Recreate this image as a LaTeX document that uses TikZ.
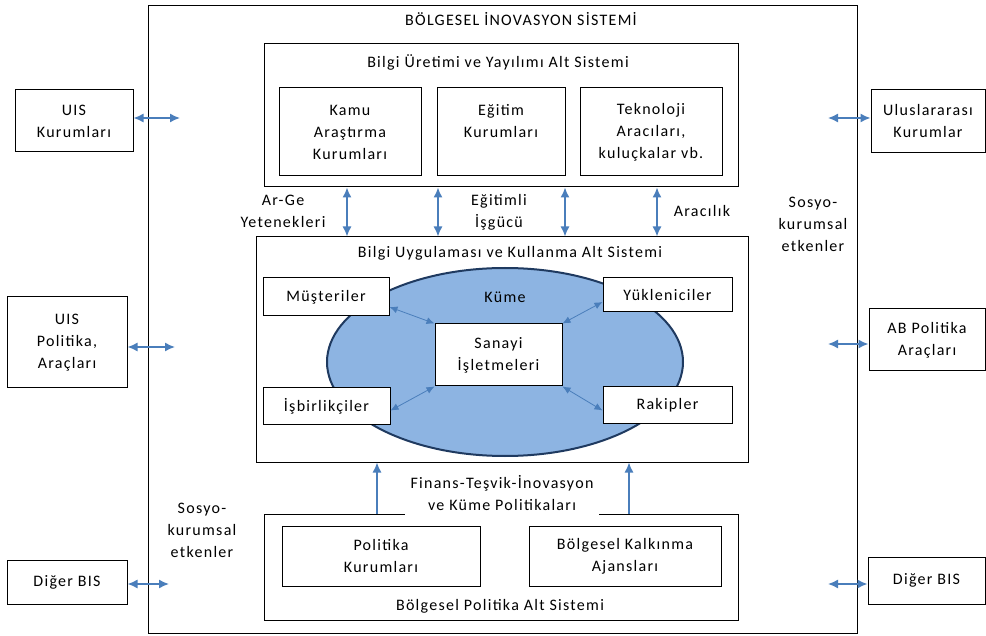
\documentclass[tikz,border=0pt]{standalone}
\usepackage{fontspec}
\setmainfont{Carlito}[LetterSpace=8]
\usetikzlibrary{arrows.meta,shapes.geometric}
\definecolor{okmavi}{HTML}{4A7EBB}
\definecolor{kumemavi}{HTML}{8DB4E2}
\definecolor{kumekenar}{HTML}{1F3A60}
\begin{document}
\begin{tikzpicture}[x=1pt,y=-1pt,
  font=\fontsize{16}{22}\selectfont,
  kutu/.style={draw,line width=1pt,fill=white,align=center,inner sep=2pt},
  yazi/.style={align=center,inner sep=1pt},
  okcift/.style={draw=okmavi,line width=1.5pt,{Latex[length=10pt,width=9pt]}-{Latex[length=10pt,width=9pt]}},
  okust/.style={draw=okmavi,line width=1.5pt,-{Latex[length=10pt,width=9pt]}},
  okince/.style={draw=okmavi,line width=0.8pt,{Latex[length=8pt,width=7pt]}-{Latex[length=8pt,width=7pt]}}]
\useasboundingbox (0,0) rectangle (986,636);
% bolgesel inovasyon sistemi
\node [kutu,fill=none,minimum width=709pt,minimum height=627pt] (bis) at (502.5,319.5) {};
\node [yazi] (bisbaslik) at (521,19) {BÖLGESEL İNOVASYON SİSTEMİ};
% bilgi uretimi ve yayilimi
\node [kutu,minimum width=474pt,minimum height=143pt] (ust) at (501,115.5) {};
\node [yazi] (ustbaslik) at (498,62) {Bilgi Üretimi ve Yayılımı Alt Sistemi};
\node [kutu,minimum width=142pt,minimum height=88pt] (kamu) at (350,132) {Kamu\\Araştırma\\Kurumları};
\node [kutu,minimum width=128pt,minimum height=88pt] (egitim) at (501,132) {};
\node [yazi] (egitimyazi) at (501,121) {Eğitim\\Kurumları};
\node [kutu,minimum width=142pt,minimum height=88pt] (tekno) at (651,132) {Teknoloji\\Aracıları,\\kuluçkalar vb.};
% bilgi uygulamasi ve kullanma
\node [kutu,minimum width=492pt,minimum height=225pt] (uyg) at (502,349.5) {};
\node [yazi] (uygbaslik) at (510,253) {Bilgi Uygulaması ve Kullanma Alt Sistemi};
\node [ellipse,draw=kumekenar,line width=2pt,fill=kumemavi,minimum width=356pt,minimum height=188pt,inner sep=0pt] (kume) at (505,362) {};
\node [yazi] (kumeyazi) at (505,297) {Küme};
\node [kutu,minimum width=127pt,minimum height=62pt] (sanayi) at (498.5,355) {Sanayi\\İşletmeleri};
\node [kutu,minimum width=126pt,minimum height=38pt] (musteri) at (326,297) {Müşteriler};
\node [kutu,minimum width=129pt,minimum height=34pt] (yuk) at (667.5,295) {Yükleniciler};
\node [kutu,minimum width=127pt,minimum height=37pt] (isbir) at (326.5,406.5) {İşbirlikçiler};
\node [kutu,minimum width=129pt,minimum height=37pt] (rakip) at (667.5,405.5) {Rakipler};
\draw [okince] ([yshift=-10pt]musteri.east) -- (sanayi.north west);
\draw [okince] (sanayi.north east) -- ([yshift=-7pt]yuk.west);
\draw [okince] ([yshift=-4pt]isbir.east) -- (sanayi.south west);
\draw [okince] (sanayi.south east) -- ([yshift=-5pt]rakip.west);
% bolgesel politika
\node [kutu,minimum width=474pt,minimum height=106pt] (alt) at (501,567) {};
\node [kutu,minimum width=198pt,minimum height=60pt] (polkur) at (381,556) {Politika\\Kurumları};
\node [kutu,minimum width=192pt,minimum height=60pt] (bka) at (625,556) {Bölgesel Kalkınma\\Ajansları};
\node [yazi] (altbaslik) at (500,606) {Bölgesel Politika Alt Sistemi};
\node [yazi,fill=white,inner sep=6pt] (finans) at (502,493) {Finans-Teşvik-İnovasyon\\ve Küme Politikaları};
% alt sistemler arasi oklar
\draw [okcift] (ust.south -| 347,0) -- (uyg.north -| 347,0);
\draw [okcift] (ust.south -| 438,0) -- (uyg.north -| 438,0);
\draw [okcift] (ust.south -| 565,0) -- (uyg.north -| 565,0);
\draw [okcift] (ust.south -| 657,0) -- (uyg.north -| 657,0);
\draw [okust] (alt.north -| 377,0) -- (uyg.south -| 377,0);
\draw [okust] (alt.north -| 629,0) -- (uyg.south -| 629,0);
\node [yazi] (argeyazi) at (283,211) {Ar-Ge\\Yetenekleri};
\node [yazi] (isgucuyazi) at (499,212) {Eğitimli\\İşgücü};
\node [yazi] (aracilik) at (702,211) {Aracılık};
\node [yazi] (sosyosag) at (813,224) {Sosyo-\\kurumsal\\etkenler};
\node [yazi] (sosyosol) at (202,530) {Sosyo-\\kurumsal\\etkenler};
% dis kutular
\node [kutu,minimum width=118pt,minimum height=62pt] (uisk) at (74,121) {UIS\\Kurumları};
\node [kutu,minimum width=120pt,minimum height=91pt] (uispol) at (67,342.5) {UIS\\Politika,\\Araçları};
\node [kutu,minimum width=120pt,minimum height=44pt] (digersol) at (67,582) {Diğer BIS};
\node [kutu,minimum width=114pt,minimum height=63pt] (ulus) at (928,121.5) {Uluslararası\\Kurumlar};
\node [kutu,minimum width=116pt,minimum height=62pt] (abpol) at (927,340) {AB Politika\\Araçları};
\node [kutu,minimum width=117pt,minimum height=47pt] (digersag) at (926.5,580.5) {Diğer BIS};
\coordinate (uiskuc) at (180,118);
\coordinate (uispoluc) at (175,347);
\coordinate (digersoluc) at (169,584);
\coordinate (ulusuc) at (828,118);
\coordinate (abpoluc) at (828,344);
\coordinate (digersaguc) at (828,584);
\draw [okcift] (uisk.east |- uiskuc) -- (uiskuc);
\draw [okcift] (uispol.east |- uispoluc) -- (uispoluc);
\draw [okcift] (digersol.east |- digersoluc) -- (digersoluc);
\draw [okcift] (ulusuc) -- (ulus.west |- ulusuc);
\draw [okcift] (abpoluc) -- (abpol.west |- abpoluc);
\draw [okcift] (digersaguc) -- (digersag.west |- digersaguc);
\end{tikzpicture}
\end{document}
